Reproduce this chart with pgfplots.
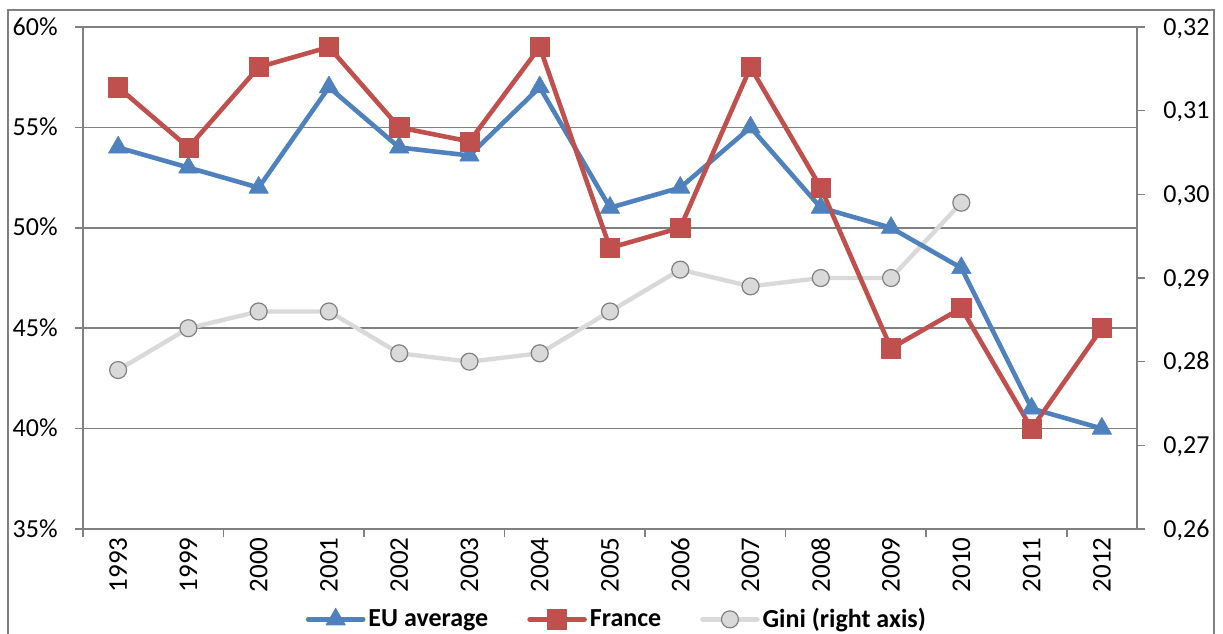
\documentclass[border=0pt]{standalone}
\usepackage{fontspec}
\setmainfont{Carlito}
\usepackage{pgfplots}
\usepackage{pgfplotstable}
\pgfplotsset{compat=1.18}
\definecolor{eublue}{RGB}{79,129,189}
\definecolor{frred}{RGB}{192,80,77}
\definecolor{ginil}{RGB}{217,217,217}
\definecolor{ginie}{RGB}{128,128,128}
\definecolor{gridc}{RGB}{128,128,128}

\pgfplotstableread{
idx eu fr
0 54 57
1 53 54
2 52 58
3 57 59
4 54 55
5 53.6 54.3
6 57 59
7 51 49
8 52 50
9 55 58
10 51 52
11 50 44
12 48 46
13 41 40
14 40 45
}\eufr

\pgfplotstableread{
idx gini
0 0.279
1 0.284
2 0.286
3 0.286
4 0.281
5 0.280
6 0.281
7 0.286
8 0.291
9 0.289
10 0.290
11 0.290
12 0.299
}\gini

\pgfplotsset{
  common/.style={
    at={(41.5pt,52pt)}, anchor=south west,
    scale only axis, width=527pt, height=251pt,
    xmin=-0.5, xmax=14.5,
    every tick label/.append style={font=\fontsize{13}{15}\selectfont},
    tick align=outside, major tick length=4pt,
    tick style={gridc, line width=0.8pt},
    axis line style={gridc, line width=0.8pt},
  },
  ginistyle/.style={color=ginil, line width=2.2pt, line join=round, line cap=round,
    mark=*, mark size=4.25pt, mark options={fill=ginil, draw=ginie, line width=0.6pt}},
  eustyle/.style={color=eublue, line width=2.3pt, line join=round, line cap=round,
    mark=triangle*, mark size=5.6pt, mark options={fill=eublue, draw=eublue, line width=0.3pt}},
  frstyle/.style={color=frred, line width=2.3pt, line join=round, line cap=round,
    mark=square*, mark size=4.8pt, mark options={fill=frred, draw=frred, line width=0.3pt}},
}

\begin{document}
\begin{tikzpicture}
\useasboundingbox (0,0) rectangle (611.5pt,316.5pt);
\draw[gridc, line width=0.6pt] (4pt,-10pt) rectangle (607pt,311.5pt);

% axis 1: left axis, grid, x labels
\begin{axis}[common,
  ymin=35, ymax=60,
  axis x line*=bottom, axis y line*=left,
  ytick={35,40,45,50,55,60},
  yticklabels={35\%,40\%,45\%,50\%,55\%,60\%},
  yticklabel style={anchor=base east, inner sep=0pt, yshift=-4.1pt, xshift=-8.5pt},
  ymajorgrids, major grid style={gridc, line width=0.8pt},
  xtick={-0.5,1.5,3.5,5.5,7.5,9.5,11.5,13.5},
  xticklabels={},
  extra x ticks={0,1,2,3,4,5,6,7,8,9,10,11,12,13,14},
  extra x tick labels={1993,1999,2000,2001,2002,2003,2004,2005,2006,2007,2008,2009,2010,2011,2012},
  extra x tick style={major tick length=0pt, xticklabel style={yshift=-4pt, rotate=90, anchor=east, inner sep=0pt, font=\fontsize{13.5}{15}\selectfont}},
]
\addplot[draw=none] coordinates {(0,50)};
\end{axis}

% axis 2: Gini, right axis
\begin{axis}[common,
  ymin=0.26, ymax=0.32,
  axis y line*=right, axis x line=none,
  ytick={0.26,0.27,0.28,0.29,0.30,0.31,0.32},
  yticklabels={{0,26},{0,27},{0,28},{0,29},{0,30},{0,31},{0,32}},
  yticklabel style={anchor=base west, inner sep=0pt, yshift=-4.1pt, xshift=9pt},
  clip=false,
]
\addplot[ginistyle] table[x=idx, y=gini] {\gini};
\end{axis}

% axis 3: EU and France
\begin{axis}[common,
  ymin=35, ymax=60, hide axis, clip=false,
  legend style={at={(0.507,-0.18)}, anchor=center, draw=none, fill=none,
    font=\bfseries\fontsize{13}{15}\selectfont,
    nodes={inner sep=1.5pt},
    /tikz/every even column/.append style={column sep=18pt}},
  legend columns=3,
  legend image code/.code={\draw[mark repeat=2,mark phase=2] plot coordinates {(0pt,0pt) (13.75pt,0pt) (27.5pt,0pt)};},
]
\addplot[eustyle] table[x=idx, y=eu] {\eufr};
\addlegendentry{EU average}
\addplot[frstyle] table[x=idx, y=fr] {\eufr};
\addlegendentry{France}
\addlegendimage{ginistyle}
\addlegendentry{Gini (right axis)}
\end{axis}
\end{tikzpicture}
\end{document}
